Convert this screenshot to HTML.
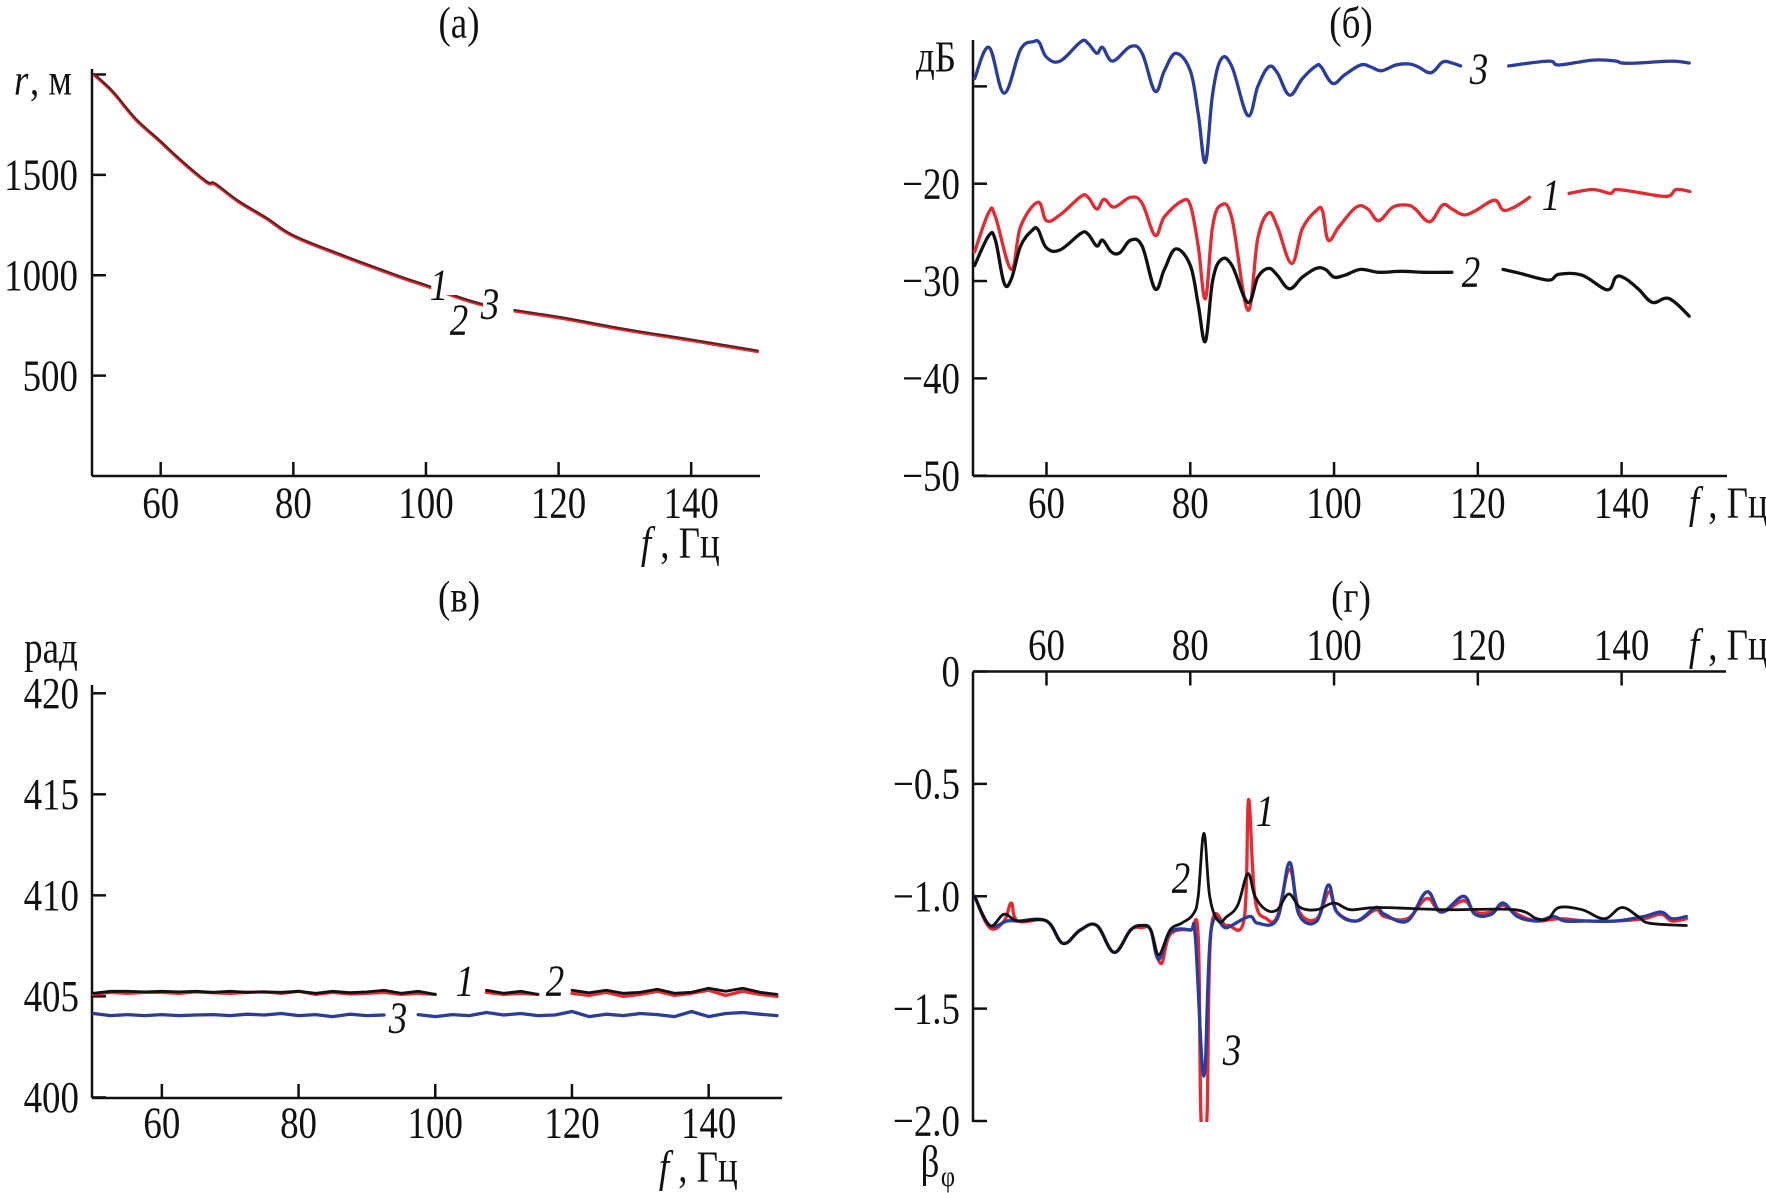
<!DOCTYPE html>
<html><head><meta charset="utf-8"><style>
html,body{margin:0;padding:0;background:#fff;}
svg{display:block;}
text{font-family:"Liberation Serif","DejaVu Serif",serif;fill:#111;}
</style></head><body>
<svg id="fig" width="1766" height="1193" viewBox="0 0 1766 1193" xmlns="http://www.w3.org/2000/svg">
<defs><clipPath id="clipD"><rect x="973" y="671" width="760" height="451"/></clipPath></defs>
</svg>
<script>
// ---------- data: panel (a) distance r vs f ----------
const aF = [50,52.8,56.2,60,63.1,67,68.2,71.7,76,80,87.1,95.7,100,108.6,120.6,130,140.8,150];
const aR = [2002,1916,1782,1668,1573,1467,1458,1372,1286,1200,1105,1000,952,857,790,733,676,625];
const aYTicks = [500,1000,1500];
const xTicks = [60,80,100,120,140];

// ---------- data: panel (б) levels, dB ----------
const bF3 = [50,52,54.1,56.4,58.2,59,60,61.9,64.8,65.8,67,67.8,69.2,71.7,73.3,75.1,76.4,78,80,81.1,82.1,83.1,84.3,85.8,88,89.4,90.9,92.1,93.8,95.6,97.5,98.2,99.8,101.5,103.7,105.1,106.6,108.6,110.5,111.7,113.5,115.1,116.4,117.6,null,124.3,129.8,131.3,136,139.2,140,142.3,147,149.4];
const bV3 = [-9.2,-6,-10.7,-6.2,-5.4,-5.5,-7,-7.4,-5.4,-5.6,-6.6,-6,-7.4,-5.9,-6.6,-10.5,-8.4,-6.6,-8.4,-12.8,-17.8,-10.8,-7.2,-8,-13,-10,-8,-8.6,-10.9,-9.2,-7.9,-8,-9.7,-8.8,-7.8,-8,-8.4,-7.8,-7.7,-8,-8.6,-7.5,-7.6,-7.9,null,-7.9,-7.4,-7.8,-7.3,-7.4,-7.6,-7.6,-7.4,-7.6];
const bF1 = [50,52,52.9,55.1,56.4,58.8,60,61.9,64.8,65.8,67,68,69.4,71.7,73.3,75.1,76.4,78.8,80,81.1,82.1,83.1,84.3,85.8,88,89.4,90.9,92.1,94.1,95.6,97.6,98.4,99.2,100.7,103.1,104.7,106.2,108.2,110.2,111.3,113.3,115.1,116.4,118,119.6,122.3,123.5,125.1,127.2,null,132.7,136,138.4,139.2,141.5,146.2,147.6,149.5];
const bV1 = [-27,-22.9,-23.4,-28.8,-24.4,-21.9,-23.8,-23.2,-21.3,-21.4,-22.6,-21.6,-22.4,-21.4,-22,-25.3,-23.4,-21.8,-22.2,-26.4,-31.8,-24.4,-22.2,-23.6,-33,-25.6,-23,-24.4,-28.2,-24.6,-22.7,-22.8,-25.8,-24.4,-22.4,-22.6,-23.8,-22.4,-22.2,-22.6,-23.9,-22.2,-22.6,-23.2,-22.8,-21.7,-22.7,-22.4,-21.4,null,-21,-20.6,-21,-20.6,-20.8,-21.3,-20.6,-20.8];
const bF2 = [50,52,52.9,54.1,55.1,56.4,58,58.8,60,61.9,64.8,65.8,67,67.8,69,70.2,71.7,73.3,75.1,76.4,78,80,81.1,82.1,83.1,84.3,85.8,88,89.4,90.9,92.1,93.8,95.6,97.5,98.8,100,101.5,103.7,106.2,109.4,112.5,116.4,null,123.5,125.8,129.8,131.3,134.5,138,139.2,140.4,142.3,144.3,146.6,149.4];
const bV2 = [-28.4,-25.3,-25.8,-30.2,-29.8,-26.4,-24.8,-24.7,-26.6,-26.8,-25.1,-25.2,-26.4,-25.8,-27,-27.1,-25.8,-26.4,-30.8,-28.8,-26.7,-28.4,-32.4,-36.2,-30,-27.8,-28.4,-32.2,-29.6,-28.7,-29.4,-30.8,-29.6,-28.7,-28.8,-29.6,-29.4,-28.8,-29.1,-29,-29.1,-29.1,null,-28.8,-29.2,-29.9,-29.3,-29.4,-30.9,-29.6,-29.7,-30.8,-32.2,-31.8,-33.6];
const bYTicks = [-50,-40,-30,-20,-10];
const bYLabels = ["\u221250","\u221240","\u221230","\u221220",""];

// ---------- data: panel (в) phase, rad ----------
const cF = [50,52.5,55,57.5,60,62.5,65,67.5,70,72.5,75,77.5,80,82.5,85,87.5,90,92.5,95,97.5,100,102.5,105,107.5,110,112.5,115,117.5,120,122.5,125,127.5,130,132.5,135,137.5,140,142.5,145,147.5,150];
const cV2 = [405.15,405.25,405.25,405.22,405.25,405.22,405.25,405.2,405.25,405.2,405.22,405.2,405.25,405.15,405.25,405.18,405.22,405.3,405.15,405.25,405.1,null,null,405.3,405.15,405.25,405.1,null,405.3,405.18,405.3,405.15,405.2,405.35,405.15,405.2,405.4,405.25,405.4,405.2,405.1];
const cV1 = [405.1,405.2,405.15,405.2,405.2,405.15,405.22,405.18,405.15,405.2,405.22,405.15,405.25,405.1,405.2,405.12,405.15,405.2,405.1,405.15,405.1,null,null,405.2,405.1,405.15,405.1,null,405.15,405.05,405.2,405.0,405.1,405.25,405.05,405.15,405.3,405.05,405.25,405.1,405.0];
const cV3 = [404.15,404.05,404.1,404.05,404.1,404.05,404.08,404.1,404.05,404.12,404.08,404.15,404.05,404.1,404.0,404.12,404.05,404.08,null,404.1,404.0,404.1,404.05,404.2,404.08,404.15,404.05,404.08,404.25,404.0,404.12,404.05,404.15,404.1,404.0,404.25,404.0,404.15,404.2,404.12,404.05];
const cYTicks = [400,405,410,415,420];

// ---------- data: panel (г) beta ----------
const dF3 = [50,52.1,54.5,56,60,62.3,64.7,67,69.4,71.7,73.3,74.5,75.6,77.2,80,80.7,81.9,82.9,85.1,88.2,89.4,92.1,93.8,95.1,97.6,99.2,100.4,103.1,105.8,107,110.2,112.9,114.9,118,119.6,121.9,123.5,125.5,128.2,130.5,132.1,135.3,139.2,143.1,145.5,147,149];
const dV3 = [-1,-1.13,-1.11,-1.11,-1.11,-1.21,-1.15,-1.13,-1.25,-1.15,-1.13,-1.15,-1.28,-1.16,-1.15,-1.18,-1.8,-1.15,-1.14,-1.09,-1.12,-1.1,-0.85,-1.08,-1.11,-0.95,-1.07,-1.11,-1.05,-1.08,-1.11,-0.98,-1.07,-1,-1.08,-1.08,-1.03,-1.09,-1.11,-1.09,-1.11,-1.11,-1.11,-1.09,-1.07,-1.1,-1.09];
const dF1 = [50,52.1,54.1,55.1,56,60,62.3,64.7,67,69.4,71.7,73.3,74.5,75.9,77.2,80,81.1,81.5,82.3,82.9,85.1,87.5,88.1,89,90.6,92.1,93.8,95.2,97.6,99.3,100.4,103.1,105.8,107,110.2,112.9,114.9,118,119.6,121.9,123.5,125.5,128.2,131.3,135.3,139.2,143.1,145.5,147,149];
const dV1 = [-1,-1.14,-1.11,-1.03,-1.11,-1.11,-1.21,-1.15,-1.13,-1.25,-1.15,-1.14,-1.15,-1.3,-1.17,-1.15,-1.18,-2,-2,-1.15,-1.13,-1.1,-0.57,-1.01,-1.1,-1.09,-0.88,-1.07,-1.1,-0.98,-1.07,-1.11,-1.06,-1.09,-1.1,-1.01,-1.07,-1.02,-1.07,-1.07,-1.04,-1.08,-1.11,-1.1,-1.11,-1.11,-1.1,-1.08,-1.11,-1.1];
const dF2 = [50,52.1,54.1,56,60,62.3,64.7,67,69.4,71.7,73.3,74.5,75.6,77.2,78.8,80.4,81.1,81.9,82.7,83.9,85.1,86.6,88,89,90.5,92.1,93.7,95.3,97.6,100,102.3,106.2,115.6,125.1,128.2,129.8,131.3,134.5,137.6,140,142.3,143.9,149];
const dV2 = [-1,-1.13,-1.08,-1.11,-1.11,-1.21,-1.15,-1.13,-1.25,-1.15,-1.13,-1.15,-1.26,-1.15,-1.12,-1.08,-1,-0.72,-1,-1.11,-1.09,-1.04,-0.9,-1,-1.06,-1.06,-0.99,-1.05,-1.06,-1.03,-1.06,-1.05,-1.06,-1.06,-1.1,-1.1,-1.05,-1.06,-1.1,-1.05,-1.09,-1.12,-1.13];
const dYTicks = [-2,-1.5,-1,-0.5,0];
const dYLabels = ["\u22122.0","\u22121.5","\u22121.0","\u22120.5","0"];

const RED="#e42a32", BLUE="#2a3c9c", BLACK="#111111";
const NS="http://www.w3.org/2000/svg";
const svg=document.getElementById('fig');

function mk(tag, attrs, parent){
  const e=document.createElementNS(NS,tag);
  for(const k in attrs) e.setAttribute(k,attrs[k]);
  (parent||svg).appendChild(e);
  return e;
}
function txt(x,y,s,anchor,italic,name,size){
  const g=mk('g',{transform:'translate('+x+','+y+') scale(0.88,1.05)'});
  const t=mk('text',{x:0,y:0,'text-anchor':anchor||'middle','dominant-baseline':'central','font-size':size||42},g);
  if(italic) t.setAttribute('font-style','italic');
  t.textContent=s;
  
  
  return t;
}
function line(x1,y1,x2,y2,name){
  const l=mk('line',{x1:x1,y1:y1,x2:x2,y2:y2,stroke:'#111','stroke-width':2.5});
  
  
  return l;
}
function series(xs,ys,sx,sy,color,name,w,smooth,clip){
  let d='';
  let seg=[];
  const segs=[];
  for(let i=0;i<xs.length;i++){
    if(xs[i]===null||ys[i]===null){if(seg.length)segs.push(seg);seg=[];continue;}
    seg.push([sx(xs[i]),sy(ys[i])]);
  }
  if(seg.length)segs.push(seg);
  segs.forEach(p=>{
    d+='M'+p[0][0].toFixed(1)+' '+p[0][1].toFixed(1)+' ';
    for(let i=1;i<p.length;i++){
      if(smooth){
        const p0=p[Math.max(0,i-2)],p1=p[i-1],p2=p[i],p3=p[Math.min(p.length-1,i+1)];
        const t=0.18;
        const c1=[p1[0]+(p2[0]-p0[0])*t,p1[1]+(p2[1]-p0[1])*t];
        const c2=[p2[0]-(p3[0]-p1[0])*t,p2[1]-(p3[1]-p1[1])*t];
        d+='C'+c1[0].toFixed(1)+' '+c1[1].toFixed(1)+' '+c2[0].toFixed(1)+' '+c2[1].toFixed(1)+' '+p2[0].toFixed(1)+' '+p2[1].toFixed(1)+' ';
      } else d+='L'+p[i][0].toFixed(1)+' '+p[i][1].toFixed(1)+' ';
    }
  });
  const p=mk('path',{d:d,fill:'none',stroke:color,'stroke-width':w||3.3,'stroke-linejoin':'round','stroke-linecap':'round'});
  if(clip) p.setAttribute('clip-path','url(#'+clip+')');
  
  
  return p;
}
function lin(d0,d1,p0,p1){return v=>p0+(v-d0)*(p1-p0)/(d1-d0);}

// ===== Panel (a) =====
{
  const sx=lin(50,150,94.4,757.5), sy=lin(0,2000,476,74.5);
  txt(459,23,'(а)','middle',false,'panel-a-title');
  line(92,69,92,476,'a-y-axis'); line(92,476,760,476,'a-x-axis');
  line(92,sy(2000),106,sy(2000),'a-y-tick-2000');
  aYTicks.forEach(v=>{line(92,sy(v),106,sy(v),'a-y-tick-'+v); txt(78,sy(v),String(v),'end',false,'a-y-tick-label-'+v);});
  xTicks.forEach(v=>{line(sx(v),476,sx(v),462,'a-x-tick-'+v); txt(sx(v),503,String(v),'middle',false,'a-x-tick-label-'+v);});
  series(aF,aR,sx,v=>sy(v)+1,RED,'a-curve-1',3.3,true);
  series(aF,aR,sx,sy,'#5a1f1f','a-curve-2',2,true);
  mk('rect',{x:sx(100.8),y:255,width:sx(104.6)-sx(100.8),height:40,fill:'#fff'});
  mk('rect',{x:sx(108.6),y:280,width:sx(113.2)-sx(108.6),height:40,fill:'#fff'});
  txt(439,285,'1','middle',true,'a-label-1');
  txt(459,320,'2','middle',true,'a-label-2');
  txt(490,304,'3','middle',true,'a-label-3');
  txt(14,80,'r','start',true,'a-y-axis-title-r');
  txt(30,80,', м','start',false,'a-y-axis-title-unit');
  txt(646,543,'f','middle',true,'a-x-axis-title-f');
  txt(690,543,', Гц','middle',false,'a-x-axis-title-unit');
}

// ===== Panel (б) =====
{
  const sx=lin(50,150,974.6,1693.5), sy=lin(-50,-20,475.7,183.7);
  txt(1351,23,'(б)','middle',false,'panel-b-title');
  line(973,40,973,476,'b-y-axis'); line(973,476,1727,476,'b-x-axis');
  bYTicks.forEach((v,i)=>{line(973,sy(v),987,sy(v),'b-y-tick-'+i); if(bYLabels[i]) txt(960,sy(v),bYLabels[i],'end',false,'b-y-tick-label-'+i);});
  xTicks.forEach(v=>{line(sx(v),476,sx(v),462,'b-x-tick-'+v); txt(sx(v),503,String(v),'middle',false,'b-x-tick-label-'+v);});
  series(bF3,bV3,sx,sy,BLUE,'b-curve-3',3.3,true);
  series(bF1,bV1,sx,sy,RED,'b-curve-1',3.3,true);
  series(bF2,bV2,sx,sy,BLACK,'b-curve-2',3.3,true);
  txt(1479,69,'3','middle',true,'b-label-3');
  txt(1551,195,'1','middle',true,'b-label-1');
  txt(1471,272,'2','middle',true,'b-label-2');
  txt(936,57,'дБ','middle',false,'b-y-axis-title');
  txt(1694,503,'f','middle',true,'b-x-axis-title-f');
  txt(1738,503,', Гц','middle',false,'b-x-axis-title-unit');
}

// ===== Panel (в) =====
{
  const sx=lin(50,150,93.5,777), sy=lin(400,420,1097.4,693.3);
  txt(459,597,'(в)','middle',false,'panel-c-title');
  line(92,685,92,1098,'c-y-axis'); line(92,1098,782,1098,'c-x-axis');
  cYTicks.forEach(v=>{line(92,sy(v),106,sy(v),'c-y-tick-'+v); txt(79,sy(v),String(v),'end',false,'c-y-tick-label-'+v);});
  xTicks.forEach(v=>{line(sx(v),1098,sx(v),1084,'c-x-tick-'+v); txt(sx(v),1123,String(v),'middle',false,'c-x-tick-label-'+v);});
  series(cF,cV1,sx,sy,RED,'c-curve-1',3.3);
  series(cF,cV2,sx,sy,BLACK,'c-curve-2',2.8);
  series(cF,cV3,sx,sy,BLUE,'c-curve-3',3.3);
  txt(465,981,'1','middle',true,'c-label-1');
  txt(555,981,'2','middle',true,'c-label-2');
  txt(398,1018,'3','middle',true,'c-label-3');
  txt(51,648,'рад','middle',false,'c-y-axis-title');
  txt(664,1167,'f','middle',true,'c-x-axis-title-f');
  txt(708,1167,', Гц','middle',false,'c-x-axis-title-unit');
}

// ===== Panel (г) =====
{
  const sx=lin(50,150,974.6,1693.5), sy=lin(-2,0,1121,671.5);
  txt(1351,597,'(г)','middle',false,'panel-d-title');
  line(973,671.5,973,1122,'d-y-axis'); line(973,671.5,1726,671.5,'d-x-axis');
  dYTicks.forEach((v,i)=>{line(973,sy(v),987,sy(v),'d-y-tick-'+i); txt(960,sy(v),dYLabels[i],'end',false,'d-y-tick-label-'+i);});
  xTicks.forEach(v=>{line(sx(v),671.5,sx(v),685.5,'d-x-tick-'+v); txt(sx(v),645,String(v),'middle',false,'d-x-tick-label-'+v);});
  series(dF1,dV1,sx,sy,RED,'d-curve-1',3.3,true,'clipD');
  series(dF3,dV3,sx,sy,BLUE,'d-curve-3',3.3,true,'clipD');
  series(dF2,dV2,sx,sy,BLACK,'d-curve-2',2.8,true,'clipD');
  txt(1265,811,'1','middle',true,'d-label-1');
  txt(1181,878,'2','middle',true,'d-label-2');
  txt(1232,1050,'3','middle',true,'d-label-3');
  txt(930,1162,'β','middle',false,'d-y-axis-title');
  txt(948,1176,'φ','middle',false,'d-y-axis-title-subscript',28);
  txt(1694,645,'f','middle',true,'d-x-axis-title-f');
  txt(1738,645,', Гц','middle',false,'d-x-axis-title-unit');
}
</script>
</body></html>
